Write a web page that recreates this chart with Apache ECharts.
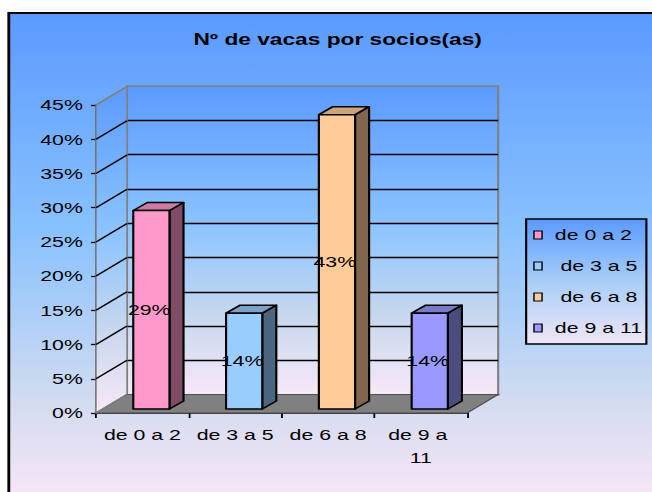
<!DOCTYPE html>
<html>
<head>
<meta charset="utf-8">
<script src="https://cdn.jsdelivr.net/npm/echarts@6/dist/echarts.min.js"></script>
<style>
  html, body { margin: 0; padding: 0; background: #fff; overflow: hidden; }
  /* the original picture is stretched sideways, so draw narrow and stretch */
  #chart { width: 459px; height: 492px; transform: scaleX(1.4205); transform-origin: 0 0; }
</style>
</head>
<body>
<div id="chart"></div>
<script>
const titleText = 'Nº de vacas por socios(as)';
const categories = ['de 0 a 2', 'de 3 a 5', 'de 6 a 8', 'de 9 a 11'];
const values = [29, 14, 43, 14];
const yTicks = [0, 5, 10, 15, 20, 25, 30, 35, 40, 45];
const frontColors = ['#ff99cc', '#99ccff', '#ffcc99', '#9999ff'];
const sideColors = ['#7f4c66', '#4c667f', '#7f664c', '#4c4c7f'];
const topColors = ['#cc7aa3', '#7aa3cc', '#cca37a', '#7a7acc'];

const FONT = 'Liberation Sans, Arial, sans-serif';
// depth of the 3d box (chart units)
const DX = 21.8, DY = -18.5;
const yMax = yTicks[yTicks.length - 1];

function grad(stops) {
  return new echarts.graphic.LinearGradient(0, 0, 0, 1,
    stops.map(s => ({ offset: s[0], color: s[1] })));
}
const bgStops = [[0, '#5a9aff'], [0.45, '#8ac2ff'], [0.8, '#d4dcf0'], [1, '#fae6f8']];
const wallStops = [[0, '#5b9bff'], [0.45, '#8cc4ff'], [0.75, '#c8d8ee'], [1, '#f8e8f8']];
const legendStops = [[0, '#5b9bff'], [0.5, '#a8cef8'], [1, '#f0e6f6']];

const chart = echarts.init(document.getElementById('chart'), null, { renderer: 'svg' });

// side wall + floor
function renderFrame(params, api) {
  const cs = params.coordSys;
  const x0 = cs.x, x1 = cs.x + cs.width;
  const yTop = api.coord([0, yMax])[1];
  const yBase = api.coord([0, 0])[1];
  return {
    type: 'group',
    children: [
      {
        type: 'polygon',
        shape: { points: [[x0, yTop], [x0 + DX, yTop + DY], [x0 + DX, yBase + DY], [x0, yBase]] },
        style: { fill: grad(wallStops), stroke: '#808080', lineWidth: 1 }
      },
      {
        type: 'polygon',
        shape: { points: [[x0, yBase], [x1, yBase], [x1 + DX, yBase + DY], [x0 + DX, yBase + DY]] },
        style: { fill: '#808080', stroke: '#505050', lineWidth: 1 }
      }
    ]
  };
}

// lines on the side wall, one per tick
function renderDiag(params, api) {
  const x0 = params.coordSys.x;
  const v = api.value(1);
  const y = api.coord([0, v])[1];
  const edge = v === 0 || v === yMax;
  return {
    type: 'line',
    shape: { x1: x0, y1: y, x2: x0 + DX, y2: y + DY },
    style: { stroke: edge ? '#808080' : '#000', lineWidth: 1.3 }
  };
}

function renderBar(params, api) {
  const i = api.value(0);
  const v = api.value(1);
  const base = api.coord([i, 0]);
  const top = api.coord([i, v]);
  const w = api.size([1, 0])[0] * 0.39;
  const fx = base[0] - w / 2 + 6.3;
  const fy0 = base[1] - 4, fy1 = top[1] - 4;
  const sx = 9.9, sy = -8;
  const line = { stroke: '#000', lineWidth: 1.5, lineJoin: 'round' };
  return {
    type: 'group',
    children: [
      {
        type: 'polygon',
        shape: { points: [[fx + w, fy1], [fx + w + sx, fy1 + sy], [fx + w + sx, fy0 + sy], [fx + w, fy0]] },
        style: Object.assign({ fill: sideColors[i] }, line)
      },
      {
        type: 'polygon',
        shape: { points: [[fx, fy1], [fx + sx, fy1 + sy], [fx + w + sx, fy1 + sy], [fx + w, fy1]] },
        style: Object.assign({ fill: topColors[i] }, line)
      },
      {
        type: 'rect',
        shape: { x: fx, y: fy1, width: w, height: fy0 - fy1 },
        style: Object.assign({ fill: frontColors[i] }, line)
      },
      {
        type: 'text',
        style: {
          text: v + '%', x: fx + w / 2 - 1.5, y: (fy0 + fy1) / 2,
          align: 'center', verticalAlign: 'middle',
          font: '15px ' + FONT, fill: '#000'
        }
      }
    ]
  };
}

const barSeries = categories.map((name, i) => ({
  name: name,
  type: 'custom',
  xAxisIndex: 0, yAxisIndex: 0,
  z: 4,
  itemStyle: { color: frontColors[i] },
  renderItem: renderBar,
  data: [[i, values[i]]]
}));

chart.setOption({
  backgroundColor: '#fff',
  animation: false,
  title: {
    text: titleText,
    left: 237.7, top: 31, textAlign: 'center', padding: 0,
    textStyle: { fontFamily: FONT, fontSize: 16, fontWeight: 'bold', color: '#000' }
  },
  graphic: [{
    type: 'rect', z: -10, silent: true,
    shape: { x: 6.2, y: 13, width: 470, height: 490 },
    style: { fill: grad(bgStops), stroke: '#000', lineWidth: 2 }
  }],
  legend: {
    orient: 'vertical',
    left: 370.4, top: 219,
    data: categories,
    icon: 'rect',
    itemWidth: 5.7, itemHeight: 8, itemGap: 15,
    padding: [8, 3, 8, 5],
    backgroundColor: grad(legendStops),
    borderColor: '#000', borderWidth: 1.5,
    itemStyle: { borderColor: '#000', borderWidth: 1 },
    formatter: name => (name === categories[1] || name === categories[2] ? '{b|' : '{a|') + name + '}',
    textStyle: {
      fontFamily: FONT, fontSize: 15, color: '#000', lineHeight: 16,
      rich: {
        a: { padding: [0, 0, 0, 4], fontFamily: FONT, fontSize: 15, color: '#000', lineHeight: 16 },
        b: { padding: [0, 0, 0, 8], fontFamily: FONT, fontSize: 15, color: '#000', lineHeight: 16 }
      }
    }
  },
  grid: [
    { left: 67.6, width: 261.3, top: 105, height: 308 },
    {
      left: 89.4, width: 261.3, top: 86, height: 309,
      show: true, backgroundColor: grad(wallStops), borderColor: '#808080', borderWidth: 1.5
    }
  ],
  xAxis: [
    {
      type: 'category', gridIndex: 0, data: categories,
      axisLine: { lineStyle: { color: '#000', width: 1.5 } },
      axisTick: { show: true, length: 5, lineStyle: { color: '#000', width: 1.3 } },
      axisLabel: {
        interval: 0, margin: 10, width: 58, overflow: 'break',
        fontFamily: FONT, fontSize: 15, lineHeight: 23, color: '#000'
      }
    },
    { type: 'category', gridIndex: 1, data: categories, show: false }
  ],
  yAxis: [
    {
      type: 'value', gridIndex: 0, min: 0, max: yMax, interval: 5,
      axisLine: { show: true, lineStyle: { color: '#000', width: 1.5 } },
      axisTick: { show: true, length: 3.5, lineStyle: { color: '#000', width: 1.3 } },
      axisLabel: { formatter: '{value}%', margin: 9.3, fontFamily: FONT, fontSize: 15, color: '#000' },
      splitLine: { show: false }
    },
    {
      type: 'value', gridIndex: 1, min: 0, max: yMax, interval: 5,
      axisLine: { show: false }, axisTick: { show: false }, axisLabel: { show: false },
      splitLine: { show: true, showMinLine: false, showMaxLine: false, lineStyle: { color: '#000', width: 1.3 } }
    }
  ],
  series: [
    {
      type: 'custom', name: 'frame', xAxisIndex: 0, yAxisIndex: 0, z: 1,
      renderItem: renderFrame, data: [[0, 0]], silent: true
    },
    {
      type: 'custom', name: 'diag', xAxisIndex: 0, yAxisIndex: 0, z: 2,
      renderItem: renderDiag, data: yTicks.map(v => [0, v]), silent: true
    }
  ].concat(barSeries)
});
</script>
</body>
</html>
